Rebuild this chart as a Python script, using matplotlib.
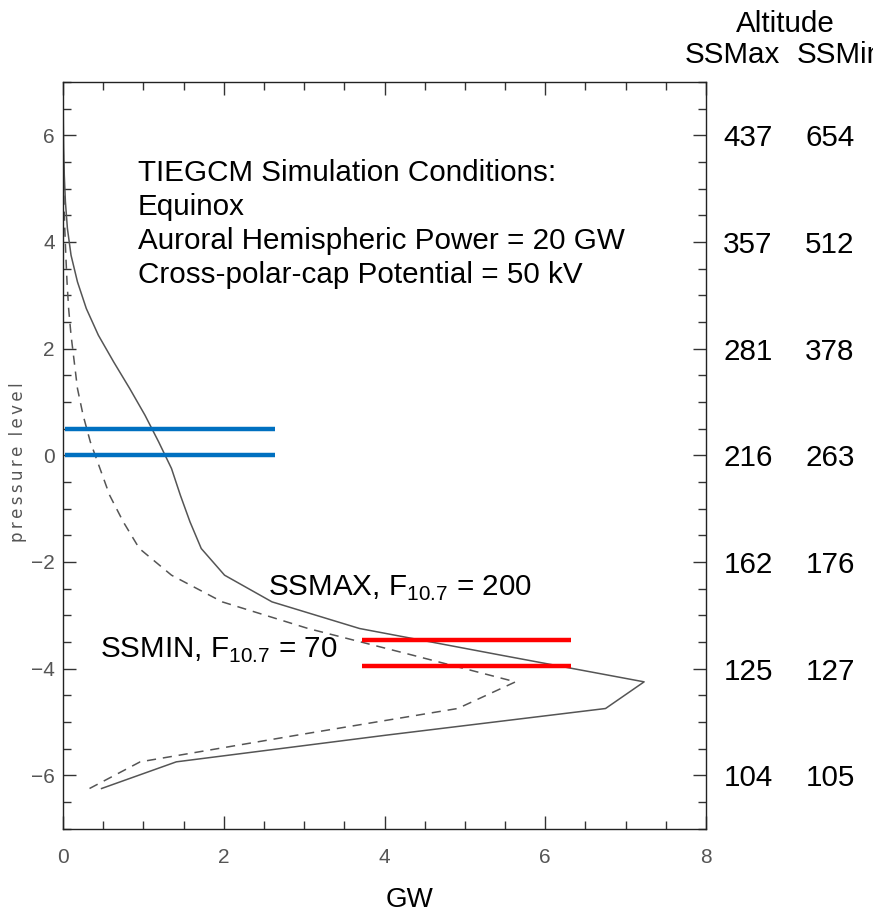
"""Joule heating profile vs pressure level, TIEGCM solar max / solar min."""

import matplotlib
matplotlib.use("Agg")
import matplotlib.pyplot as plt
from matplotlib.ticker import MultipleLocator
from matplotlib.transforms import blended_transform_factory

plt.rcParams["font.family"] = ["Liberation Sans", "DejaVu Sans"]
plt.rcParams["mathtext.fontset"] = "custom"
plt.rcParams["mathtext.rm"] = "Liberation Sans"
plt.rcParams["axes.unicode_minus"] = True

# pressure levels (midpoints) and heating in GW
levels = [-6.25, -5.75, -5.25, -4.75, -4.25, -3.75, -3.25, -2.75, -2.25, -1.75,
          -1.25, -0.75, -0.25, 0.25, 0.75, 1.25, 1.75, 2.25, 2.75, 3.25,
          3.75, 4.25, 4.75, 5.25, 5.75, 6.25, 6.75]
ssmax_gw = [0.48, 1.41, 4.02, 6.75, 7.23, 5.45, 3.69, 2.60, 2.01, 1.72,
            1.58, 1.46, 1.35, 1.19, 1.02, 0.83, 0.63, 0.44, 0.29, 0.18,
            0.10, 0.055, 0.03, 0.016, 0.008, 0.004, 0.002]
ssmin_gw = [0.33, 0.96, 2.91, 4.91, 5.63, 4.35, 3.05, 1.98, 1.35, 0.95,
            0.75, 0.58, 0.46, 0.34, 0.25, 0.18, 0.14, 0.10, 0.07, 0.05,
            0.035, 0.022, 0.012, 0.006, 0.003, 0.002, 0.001]

# altitude (km) at each labelled pressure level
alt_levels = [6, 4, 2, 0, -2, -4, -6]
alt_ssmax = [437, 357, 281, 216, 162, 125, 104]
alt_ssmin = [654, 512, 378, 263, 176, 127, 105]

# highlighted level bands
blue_y = [0.5, 0.0]
blue_x = [0.03, 2.64]
red_y = [-3.46, -3.95]
red_x = [3.72, 6.32]

W, H = 873, 917
FS = 21.3
fig = plt.figure(figsize=(W / 100, H / 100), dpi=100)
ax = fig.add_axes([63 / W, 1 - 828.5 / H, 643 / W, 746.6 / H])

ax.plot(ssmax_gw, levels, color="#555555", lw=1.1)
ax.plot(ssmin_gw, levels, color="#555555", lw=1.1, ls=(0, (6, 4.5)))

for y in blue_y:
    ax.plot(blue_x, [y, y], color="#0070C0", lw=3.2, solid_capstyle="butt")
for y in red_y:
    ax.plot(red_x, [y, y], color="#FF0000", lw=3.2, solid_capstyle="butt")

ax.set_xlim(0, 8)
ax.set_ylim(-7, 7)
ax.xaxis.set_major_locator(MultipleLocator(2))
ax.xaxis.set_minor_locator(MultipleLocator(0.5))
ax.yaxis.set_major_locator(MultipleLocator(2))
ax.yaxis.set_minor_locator(MultipleLocator(0.5))
ax.tick_params(which="both", direction="in", top=True, right=True,
               color="#333333", width=1.0)
ax.tick_params(which="major", length=9.5, pad=14)
ax.tick_params(which="minor", length=5.8)
ax.tick_params(axis="y", which="major", pad=6)
for lab in ax.get_xticklabels() + ax.get_yticklabels():
    lab.set_fontsize(15)
    lab.set_color("#555555")
for sp in ax.spines.values():
    sp.set_color("#222222")
    sp.set_linewidth(1.0)

ylab = "\u2009".join("pressure") + "\u2009\u2009\u2009" + "\u2009".join("level")
fig.text(18 / W, 1 - 462 / H, ylab, rotation=90, ha="center",
         va="center", fontsize=12, color="#555555", family="DejaVu Sans")
fig.text(410 / W, 1 - 900 / H, "GW", ha="center", va="center", fontsize=20)

ax.text(0.93, 5.55,
        "TIEGCM Simulation Conditions:\nEquinox\n"
        "Auroral Hemispheric Power = 20 GW\nCross-polar-cap Potential = 50 kV",
        ha="left", va="top", fontsize=FS, linespacing=1.27)
ax.text(2.55, -2.5, "SSMAX, F$_{10.7}$ = 200", ha="left", va="center",
        fontsize=FS)
ax.text(0.46, -3.66, "SSMIN, F$_{10.7}$ = 70", ha="left", va="center",
        fontsize=FS)

tr = blended_transform_factory(ax.transAxes, ax.transData)
for y, a, b in zip(alt_levels, alt_ssmax, alt_ssmin):
    ax.text((748 - 63) / 643, y, str(a), transform=tr, ha="center",
            va="center_baseline", fontsize=FS, clip_on=False)
    ax.text((830 - 63) / 643, y, str(b), transform=tr, ha="center",
            va="center_baseline", fontsize=FS, clip_on=False)

fig.text(785 / W, 1 - 24 / H, "Altitude", ha="center", va="center", fontsize=FS)
fig.text(685 / W, 1 - 55 / H, "SSMax", ha="left", va="center", fontsize=FS)
fig.text(797 / W, 1 - 55 / H, "SSMin", ha="left", va="center", fontsize=FS)

fig.savefig("out.png", dpi=100)
